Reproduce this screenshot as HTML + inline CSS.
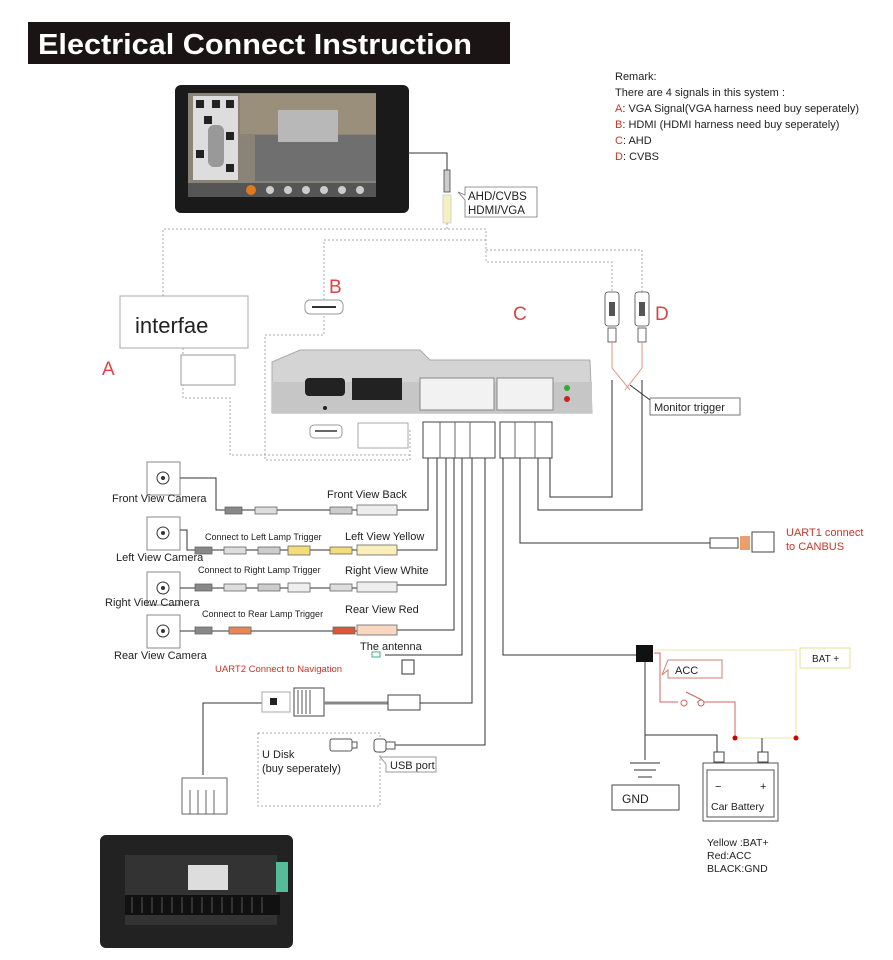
<!DOCTYPE html>
<html><head><meta charset="utf-8"><style>
html,body{margin:0;padding:0;background:#fff}
svg{display:block}
text{font-family:"Liberation Sans",sans-serif}
</style></head><body>
<svg width="893" height="960" viewBox="0 0 893 960" xmlns="http://www.w3.org/2000/svg">
<rect width="893" height="960" fill="#fff"/>
<!-- title -->
<rect x="28" y="22" width="482" height="42" fill="#1b1414"/>
<text x="38" y="54" font-size="29" font-weight="bold" fill="#fff" textLength="434" lengthAdjust="spacingAndGlyphs">Electrical Connect Instruction</text>
<!-- remark -->
<g font-size="11" fill="#222">
<text x="615" y="80">Remark:</text>
<text x="615" y="96">There are 4 signals in this system :</text>
<text x="615" y="112"><tspan fill="#c0392b">A</tspan>: VGA Signal(VGA harness need buy seperately)</text>
<text x="615" y="128"><tspan fill="#c0392b">B</tspan>: HDMI (HDMI harness need buy seperately)</text>
<text x="615" y="144"><tspan fill="#c0392b">C</tspan>: AHD</text>
<text x="615" y="160"><tspan fill="#c0392b">D</tspan>: CVBS</text>
</g>
<!-- monitor -->
<rect x="175" y="85" width="234" height="128" rx="6" fill="#1a1a1a"/>
<rect x="188" y="93" width="188" height="100" fill="#8a8478"/>
<rect x="193" y="96" width="45" height="84" fill="#ddd"/>
<g fill="#222"><rect x="196" y="100" width="8" height="8"/><rect x="212" y="100" width="8" height="8"/><rect x="226" y="100" width="8" height="8"/><rect x="204" y="116" width="8" height="8"/><rect x="226" y="132" width="8" height="8"/><rect x="196" y="150" width="8" height="8"/><rect x="226" y="164" width="8" height="8"/></g>
<rect x="208" y="125" width="16" height="42" rx="6" fill="#999"/>
<rect x="240" y="94" width="136" height="40" fill="#9a8f7a"/>
<rect x="255" y="135" width="121" height="46" fill="#6f6f6f"/>
<rect x="278" y="110" width="60" height="32" fill="#b8b8b8"/>
<rect x="188" y="183" width="188" height="14" fill="#555"/>
<g fill="#ccc"><circle cx="270" cy="190" r="4"/><circle cx="288" cy="190" r="4"/><circle cx="306" cy="190" r="4"/><circle cx="324" cy="190" r="4"/><circle cx="342" cy="190" r="4"/><circle cx="360" cy="190" r="4"/></g>
<circle cx="251" cy="190" r="5" fill="#e07820"/>
<!-- AHD plug -->
<path d="M408 153 H447 V170" stroke="#333" fill="none"/>
<rect x="444" y="170" width="6" height="22" fill="#ccc" stroke="#444" stroke-width="0.8"/>
<rect x="443" y="195" width="8" height="28" fill="#f5f0c0" stroke="#ccc" stroke-width="0.8"/>
<path d="M465 187 H537 V217 H465 V200 L458 192 L465 195 Z" fill="#fff" stroke="#777" stroke-width="0.8"/>
<text x="468" y="200" font-size="11.5" fill="#222">AHD/CVBS</text>
<text x="468" y="214" font-size="11.5" fill="#222">HDMI/VGA</text>
<!-- dotted lines -->
<g stroke="#aaa" stroke-dasharray="2,2" fill="none" stroke-width="1">
<path d="M447 223 V229 M163 296 V229 H486 V262 H612 V292"/>
<path d="M486 240 H324 V300 M486 250 H642 V292"/>
<path d="M324 312 V335 H265 V460 H410 V430"/>
</g>
<!-- interface box -->
<rect x="120" y="296" width="128" height="52" fill="#fff" stroke="#aaa"/>
<text x="135" y="333" font-size="22" fill="#222">interfae</text>
<path d="M183 348 V398 H230 V455 H410" stroke="#aaa" stroke-dasharray="2,2" fill="none"/>
<rect x="181" y="355" width="54" height="30" fill="#fff" stroke="#999"/>
<g fill="#d44" font-size="19"><text x="102" y="375">A</text><text x="329" y="293">B</text><text x="513" y="320">C</text><text x="655" y="320">D</text></g>
<!-- HDMI plug B -->
<rect x="305" y="300" width="38" height="14" rx="5" fill="#fff" stroke="#999"/>
<line x1="312" y1="307" x2="336" y2="307" stroke="#333" stroke-width="2"/>
<!-- main box -->
<path d="M272 362 L300 350 H420 L430 360 H590 L592 413 H272 Z" fill="#d4d4d4" stroke="#aaa"/>
<rect x="272" y="382" width="320" height="31" fill="#c6c6c6"/>
<rect x="305" y="378" width="40" height="18" rx="4" fill="#222"/>
<rect x="352" y="378" width="50" height="22" fill="#222"/>
<circle cx="325" cy="408" r="2" fill="#222"/>
<rect x="420" y="378" width="74" height="32" fill="#f2f2f2" stroke="#888"/>
<rect x="497" y="378" width="56" height="32" fill="#f2f2f2" stroke="#888"/>
<circle cx="567" cy="388" r="3" fill="#3a3"/><circle cx="567" cy="399" r="3" fill="#c22"/>
<rect x="310" y="425" width="32" height="13" rx="4" fill="#fff" stroke="#999"/>
<line x1="315" y1="431" x2="337" y2="431" stroke="#333" stroke-width="1.5"/>
<rect x="358" y="423" width="50" height="25" fill="#fff" stroke="#aaa"/>
<rect x="423" y="422" width="72" height="36" fill="#fff" stroke="#444"/>
<path d="M440 422 V458 M455 422 V458 M470 422 V458" stroke="#666"/>
<rect x="500" y="422" width="52" height="36" fill="#fff" stroke="#444"/>
<path d="M515 422 V458 M535 422 V458" stroke="#666"/>
<!-- RCA plugs D -->
<g fill="#fff" stroke="#444" stroke-width="0.8">
<rect x="605" y="292" width="14" height="34" rx="3"/><rect x="635" y="292" width="14" height="34" rx="3"/>
<rect x="608" y="328" width="8" height="14"/><rect x="638" y="328" width="8" height="14"/>
</g>
<rect x="609" y="302" width="6" height="14" fill="#555"/><rect x="639" y="302" width="6" height="14" fill="#555"/>
<path d="M612 342 V368 L630 390 M642 342 V368 L625 390" stroke="#d98" fill="none"/>
<path d="M612 380 V497 H550 V458 M642 380 V510 H538 V458" stroke="#333" fill="none"/>
<path d="M630 385 L650 400" stroke="#333" fill="none"/>
<rect x="650" y="398" width="90" height="17" fill="#fff" stroke="#777"/>
<text x="654" y="411" font-size="11" fill="#222">Monitor trigger</text>
<!-- harness lines -->
<g stroke="#333" fill="none" stroke-width="1">
<path d="M428 458 V510 H390"/>
<path d="M437 458 V550 H390"/>
<path d="M446 458 V585 H390"/>
<path d="M454 458 V630 H390"/>
<path d="M462 458 V655 H385"/>
<path d="M472 458 V703 H420"/>
<path d="M485 458 V745 H395"/>
<path d="M503 458 V655 H636"/>
<path d="M520 458 V543 H710"/>
</g>
<!-- CANBUS -->
<rect x="710" y="538" width="28" height="10" fill="#fff" stroke="#444"/>
<rect x="740" y="536" width="10" height="14" fill="#e9a070"/>
<rect x="752" y="532" width="22" height="20" fill="#fff" stroke="#444"/>
<text x="786" y="536" font-size="11" fill="#c0392b">UART1 connect</text>
<text x="786" y="550" font-size="11" fill="#c0392b">to CANBUS</text>
<!-- cameras -->
<g fill="#fff" stroke="#888">
<rect x="147" y="462" width="33" height="33"/><rect x="147" y="517" width="33" height="33"/>
<rect x="147" y="572" width="33" height="33"/><rect x="147" y="615" width="33" height="33"/>
</g>
<g fill="none" stroke="#333"><circle cx="163" cy="478" r="6"/><circle cx="163" cy="533" r="6"/><circle cx="163" cy="588" r="6"/><circle cx="163" cy="631" r="6"/></g>
<g fill="#333"><circle cx="163" cy="478" r="2"/><circle cx="163" cy="533" r="2"/><circle cx="163" cy="588" r="2"/><circle cx="163" cy="631" r="2"/></g>
<g stroke="#333" fill="none">
<path d="M180 478 H216 V510 H225 M242 510 H390"/>
<path d="M180 530 H187 V550 H195 M212 550 H390"/>
<path d="M180 588 H195 M212 588 H390"/>
<path d="M180 631 H195 M212 631 H390"/>
</g>
<!-- connector blobs -->
<g stroke="#666" stroke-width="0.8">
<rect x="225" y="507" width="17" height="7" fill="#888"/><rect x="255" y="507" width="22" height="7" fill="#ddd"/><rect x="330" y="507" width="22" height="7" fill="#ccc"/><rect x="357" y="505" width="40" height="10" fill="#eee"/>
<rect x="195" y="547" width="17" height="7" fill="#888"/><rect x="224" y="547" width="22" height="7" fill="#ddd"/><rect x="258" y="547" width="22" height="7" fill="#ccc"/><rect x="288" y="546" width="22" height="9" fill="#f3dc7a"/><rect x="330" y="547" width="22" height="7" fill="#f3dc7a"/><rect x="357" y="545" width="40" height="10" fill="#faeebb"/>
<rect x="195" y="584" width="17" height="7" fill="#888"/><rect x="224" y="584" width="22" height="7" fill="#ddd"/><rect x="258" y="584" width="22" height="7" fill="#ccc"/><rect x="288" y="583" width="22" height="9" fill="#eee"/><rect x="330" y="584" width="22" height="7" fill="#ddd"/><rect x="357" y="582" width="40" height="10" fill="#eee"/>
<rect x="195" y="627" width="17" height="7" fill="#888"/><rect x="229" y="627" width="22" height="7" fill="#e8865a"/><rect x="333" y="627" width="22" height="7" fill="#d65a3a"/><rect x="357" y="625" width="40" height="10" fill="#f8d8c0"/>
</g>
<g font-size="11" fill="#222">
<text x="112" y="502">Front View Camera</text>
<text x="327" y="498">Front View Back</text>
<text x="116" y="561">Left View Camera</text>
<text x="345" y="540">Left View Yellow</text>
<text x="105" y="606">Right View Camera</text>
<text x="345" y="574">Right View White</text>
<text x="114" y="659">Rear View Camera</text>
<text x="345" y="613">Rear View Red</text>
<text x="360" y="650">The antenna</text>
</g>
<g font-size="9" fill="#222">
<text x="205" y="540">Connect to Left Lamp Trigger</text>
<text x="198" y="573">Connect to Right Lamp Trigger</text>
<text x="202" y="617">Connect to Rear Lamp Trigger</text>
</g>
<rect x="372" y="652" width="8" height="5" fill="#fff" stroke="#4a9"/>
<rect x="402" y="660" width="12" height="14" fill="#fff" stroke="#333"/>
<text x="215" y="672" font-size="9.5" fill="#c0392b">UART2 Connect to Navigation</text>
<!-- UART2 -->
<path d="M262 703 H203 V775" stroke="#333" fill="none"/>
<rect x="262" y="692" width="28" height="20" fill="#fff" stroke="#aaa"/>
<rect x="270" y="698" width="7" height="7" fill="#222"/>
<rect x="294" y="688" width="30" height="28" fill="#fff" stroke="#444"/>
<path d="M298 690 V714 M302 690 V714 M306 690 V714 M310 690 V714" stroke="#555"/>
<path d="M324 703 H388" stroke="#888" stroke-width="3" fill="none"/>
<rect x="388" y="695" width="32" height="15" fill="#fff" stroke="#444"/>
<!-- U disk -->
<rect x="258" y="733" width="122" height="73" fill="none" stroke="#aaa" stroke-dasharray="2,2"/>
<text x="262" y="758" font-size="11" fill="#222">U Disk</text>
<text x="262" y="772" font-size="11" fill="#222">(buy seperately)</text>
<rect x="330" y="739" width="22" height="12" rx="2" fill="#fff" stroke="#555"/>
<rect x="352" y="742" width="5" height="6" fill="#fff" stroke="#555"/>
<rect x="374" y="739" width="12" height="13" rx="3" fill="#fff" stroke="#555"/>
<rect x="386" y="742" width="9" height="7" fill="#fff" stroke="#555"/>
<path d="M386 757 H436 V772 H386 V764 L380 757 Z" fill="#fff" stroke="#999"/>
<text x="390" y="769" font-size="11" fill="#222">USB port</text>
<!-- bottom unit connector -->
<rect x="182" y="778" width="45" height="36" fill="#fff" stroke="#666"/>
<path d="M190 790 V814 M198 790 V814 M206 790 V814 M214 790 V814" stroke="#666"/>
<rect x="100" y="835" width="193" height="113" rx="6" fill="#222"/>
<rect x="125" y="855" width="152" height="70" fill="#333"/>
<rect x="188" y="865" width="40" height="25" fill="#ddd"/>
<rect x="276" y="862" width="12" height="30" fill="#5b9"/>
<rect x="125" y="895" width="155" height="20" fill="#111"/>
<g stroke="#555"><path d="M132 897 V913 M142 897 V913 M152 897 V913 M162 897 V913 M172 897 V913 M182 897 V913 M192 897 V913 M202 897 V913 M212 897 V913 M222 897 V913 M232 897 V913 M242 897 V913 M252 897 V913 M262 897 V913"/></g>
<!-- battery section -->
<rect x="636" y="645" width="17" height="17" fill="#111"/>
<path d="M654 650 H796 V738 M796 738 H738" stroke="#eee9a0" fill="none"/>
<rect x="800" y="648" width="50" height="20" fill="#fff" stroke="#e6e090"/>
<text x="812" y="662" font-size="10" fill="#222">BAT +</text>
<path d="M654 653 H660 V702 H678 M697 702 H735 V738" stroke="#c66" fill="none"/>
<path d="M668 660 H722 V678 H668 V670 L662 675 Z" fill="#fff" stroke="#c98070"/>
<text x="675" y="674" font-size="11" fill="#222">ACC</text>
<circle cx="684" cy="703" r="3" fill="#fff" stroke="#c66"/><circle cx="701" cy="703" r="3" fill="#fff" stroke="#c66"/>
<path d="M686 692 L702 700" stroke="#c66"/>
<circle cx="735" cy="738" r="2.5" fill="#c00"/><circle cx="796" cy="738" r="2.5" fill="#c00"/>
<path d="M645 662 V735 H717 V755 M762 738 V755 M645 735 V760" stroke="#333" fill="none"/>
<path d="M630 763 H660 M634 770 H656 M638 777 H652" stroke="#333"/>
<rect x="612" y="785" width="67" height="25" fill="#fff" stroke="#444"/>
<text x="622" y="803" font-size="12" fill="#222">GND</text>
<rect x="714" y="752" width="10" height="10" fill="#fff" stroke="#444"/>
<rect x="758" y="752" width="10" height="10" fill="#fff" stroke="#444"/>
<rect x="703" y="763" width="75" height="58" fill="#fff" stroke="#555"/>
<rect x="707" y="770" width="67" height="47" fill="#fff" stroke="#555"/>
<text x="715" y="790" font-size="11" fill="#222">−</text><text x="760" y="790" font-size="11" fill="#222">+</text>
<text x="711" y="810" font-size="10.5" fill="#222">Car Battery</text>
<g font-size="10.5" fill="#222"><text x="707" y="846">Yellow :BAT+</text><text x="707" y="859">Red:ACC</text><text x="707" y="872">BLACK:GND</text></g>
</svg>
</body></html>
